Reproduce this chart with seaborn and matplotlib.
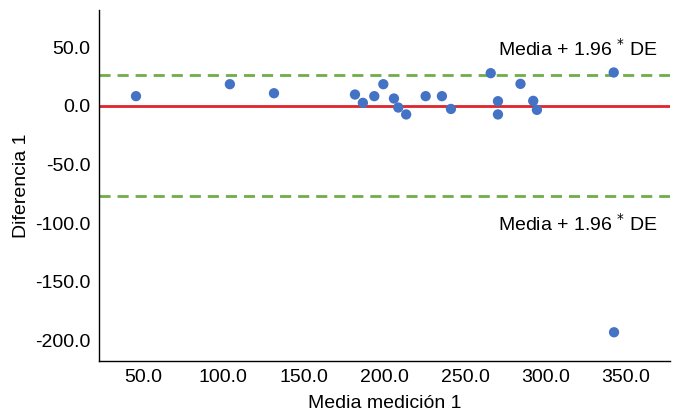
import numpy as np
import pandas as pd
import matplotlib
matplotlib.use("Agg")
import matplotlib.pyplot as plt
import seaborn as sns

# Bland-Altman data
media = [45.7, 104.0, 131.4, 181.7, 186.6, 193.7, 199.3, 205.9, 208.6, 213.5,
         225.6, 235.7, 241.3, 266.0, 270.5, 270.5, 284.5, 292.4, 294.7, 342.4, 342.6]
diferencia = [8.3, 18.5, 10.8, 9.7, 2.6, 8.3, 18.5, 6.3, -1.4, -7.3,
              8.3, 8.3, -2.6, 27.9, 4.0, -7.3, 18.8, 4.3, -3.4, 28.5, -193.1]
linea_central = 0.0
limite_sup = 26.2
limite_inf = -77.0
x_ticks = [50, 100, 150, 200, 250, 300, 350]
y_ticks = [50, 0, -50, -100, -150, -200]

df = pd.DataFrame({"media": media, "diferencia": diferencia})

sns.set_style("white")
plt.rcParams["font.family"] = ["Liberation Sans", "DejaVu Sans"]
for k in ["text.color", "axes.labelcolor", "xtick.color", "ytick.color"]:
    plt.rcParams[k] = "black"

fig = plt.figure(figsize=(6.76, 4.2), dpi=100)
ax = fig.add_axes([0.1464, 0.1405, 0.8446, 0.8357])

ax.axhline(limite_sup, color="#70AD47", lw=2.0, dashes=(4, 2.5))
ax.axhline(limite_inf, color="#70AD47", lw=2.0, dashes=(4, 2.5))
ax.axhline(linea_central, color="#E0242C", lw=2.0)

sns.scatterplot(data=df, x="media", y="diferencia", ax=ax, color="#4472C4",
                s=55, edgecolor="none", zorder=3)

ax.text(370, 48.5, "Media + 1.96 $^{*}$ DE", ha="right", va="center", fontsize=14)
ax.text(370, -101, "Media + 1.96 $^{*}$ DE", ha="right", va="center", fontsize=14)

ax.set_xlim(22.7, 377.3)
ax.set_ylim(-217.6, 81.8)
ax.set_xticks(x_ticks)
ax.set_xticklabels([f"{v:.1f}" for v in x_ticks])
ax.set_yticks(y_ticks)
ax.set_yticklabels([f"{v:.1f}" for v in y_ticks])
ax.tick_params(axis="both", length=0, labelsize=14, pad=6)

ax.set_xlabel("Media medición 1", fontsize=14, labelpad=6)
ax.set_ylabel("Diferencia 1", fontsize=14, labelpad=4)

sns.despine(ax=ax)
for s in ["left", "bottom"]:
    ax.spines[s].set_color("black")
    ax.spines[s].set_linewidth(1.0)

plt.rcParams["mathtext.fontset"] = "custom"
fig.savefig("out.png", dpi=100)
